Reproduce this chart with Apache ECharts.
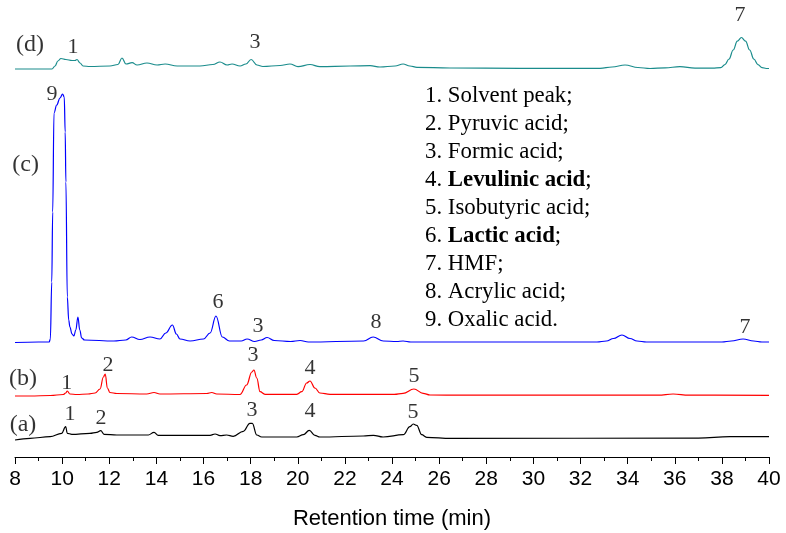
<!DOCTYPE html>
<html>
<head>
<meta charset="utf-8">
<script src="https://cdn.jsdelivr.net/npm/echarts@6/dist/echarts.min.js"></script>
<style>html,body{margin:0;padding:0;background:#fff}#chart{width:786px;height:533px}</style>
</head>
<body>
<div id="chart"></div>
<script>
// [retention time (min), detector signal]
const traceA = [[8.0,-3],[8.64,-1.3],[9.49,0.3],[9.98,3.7],[10.15,10.3],[10.22,3.7],[10.41,2.7],[11.18,3.7],[11.47,4.7],[11.64,6.3],[11.78,2.7],[12.32,2],[13.66,2],[13.9,4.7],[14.08,1.7],[16.28,1.7],[16.49,3],[16.7,1.3],[16.98,2],[17.26,0.7],[17.69,5.7],[17.97,13.7],[18.07,13.7],[18.26,2],[18.47,0],[19.96,0],[20.24,2.3],[20.49,6.7],[20.73,1.7],[20.94,0],[22.78,1],[23.21,1.7],[23.62,0],[24.48,2.3],[24.76,10.3],[24.9,13],[25.05,11.7],[25.26,2.3],[25.47,-0.3],[26.5,-1.3],[37,-1.2],[38.34,0.3],[40,0.3]];
const traceB = [[8.0,0],[8.64,0],[9.5,0.5],[10.05,1.5],[10.15,3],[10.22,5],[10.33,2],[10.62,1.5],[11.1,2],[11.4,3],[11.61,7],[11.75,19],[11.83,22],[11.92,8],[12.03,3.5],[12.32,2.5],[13.59,2],[13.9,3.5],[14.15,2],[16.14,2.5],[16.35,3.5],[16.56,2],[17.55,1.5],[17.83,11],[18.05,24],[18.14,26],[18.26,18],[18.4,4.3],[18.61,1.7],[19.96,1.7],[20.17,4.3],[20.38,13],[20.52,15],[20.73,8],[20.94,3],[21.37,1.7],[24.1,1.7],[24.47,2.7],[24.93,7],[25.32,2.7],[25.61,1],[27,0.8],[35.3,0.8],[35.93,2],[36.6,0.8],[40,0.7]];
const traceC = [[8.0,-0.5],[9.0,0],[9.45,0],[9.5,3],[9.56,60],[9.6,130],[9.655,229],[9.77,237],[9.91,244],[10.02,248],[10.09,245],[10.13,210],[10.16,160],[10.22,45],[10.28,22],[10.33,15],[10.42,8],[10.5,6],[10.58,12],[10.67,25],[10.75,12],[10.83,4],[10.95,2],[12.2,1],[12.7,2],[12.95,5],[13.3,2.5],[13.73,5],[14.15,3],[14.4,9],[14.68,17],[14.85,8],[15.0,3],[15.43,1],[16.0,3],[16.28,9],[16.53,26],[16.8,5],[17.1,1],[17.6,1],[17.85,3],[18.17,0.5],[18.45,2],[18.7,4.5],[19.0,1.5],[19.7,0.5],[20.1,1.5],[20.45,0],[22.8,1],[23.2,5],[23.63,1],[24.2,0.5],[24.47,1],[24.8,0],[32.7,0],[33.1,1],[33.4,3.5],[33.76,7],[34.1,3.5],[34.4,1],[34.8,0],[38.0,0],[38.4,1],[38.9,3],[39.35,1],[39.7,0],[40,0]];
const traceD = [[8.0,0],[9.57,0],[9.7,3],[9.82,8],[9.95,10.5],[10.16,9.5],[10.42,8.5],[10.55,8.5],[10.63,9.5],[10.76,6],[10.89,3],[11.18,2.5],[12.03,3],[12.37,4.5],[12.54,11],[12.71,5],[12.97,6.3],[13.18,4],[13.6,6],[14.03,4],[14.37,5],[14.88,3],[15.85,3],[16.4,4.5],[16.7,7],[17.0,4],[17.21,5],[17.55,3],[17.8,5],[18.02,9.5],[18.27,4],[18.52,2.5],[19.25,3.5],[19.67,5],[20.01,2.3],[20.52,4.5],[20.94,2.3],[22.22,3],[23.07,3.3],[23.49,2],[24.13,3],[24.47,5],[24.76,3],[25.06,1.7],[26.46,1],[29.43,0.7],[32.83,0.7],[33.34,2],[33.89,4],[34.44,1.5],[34.95,0.5],[35.59,1.2],[36.22,2.3],[36.86,0.8],[37.6,0.8],[37.955,1.4],[38.13,4.3],[38.305,10],[38.48,19],[38.655,27.8],[38.83,31.5],[39.005,27.8],[39.18,19],[39.355,10],[39.53,4.3],[39.705,1.4],[39.88,0.5],[40,0.5]];

const traceNames = ['(a)','(b)','(c)','(d)'];
const traceOffsets = [20, 61, 115, 388];
const traceColors = ['#000000','#ff0000','#0000ff','#1a8c8c'];

// peak labels: [time, level in plot units, text]
const peakLabels = [
  [10.33,43,'1'],[11.65,39,'2'],[18.06,47,'3'],[20.52,46,'4'],[24.89,45,'5'],
  [10.2,74,'1'],[11.95,92,'2'],[18.1,102,'3'],[20.52,89,'4'],[24.93,81,'5'],
  [9.57,363,'9'],[16.62,155,'6'],[18.31,131,'3'],[23.32,135,'8'],[38.98,130,'7'],
  [10.46,410,'1'],[18.19,415,'3'],[38.77,442,'7']
];
const traceLabelPos = [[8.34,32],[8.34,78],[8.45,292],[8.64,412]];

const compounds = [
  ['1.','Solvent peak',';',false],
  ['2.','Pyruvic acid',';',false],
  ['3.','Formic acid',';',false],
  ['4.','Levulinic acid',';',true],
  ['5.','Isobutyric acid',';',false],
  ['6.','Lactic acid',';',true],
  ['7.','HMF',';',false],
  ['8.','Acrylic acid',';',false],
  ['9.','Oxalic acid','.',false]
];

const xMin = 8, xMax = 40, xInterval = 2;

const serif = '"Liberation Serif","Times New Roman",serif';
const sans = '"Liberation Sans",Arial,sans-serif';

const series = [];
[traceA, traceB, traceC, traceD].forEach((tr, i) => {
  series.push({
    type: 'line',
    name: traceNames[i],
    data: tr.map(p => [p[0], p[1] + traceOffsets[i]]),
    showSymbol: false,
    smooth: 0.4,
    smoothMonotone: 'x',
    lineStyle: {color: traceColors[i], width: 1.2},
    silent: true,
    z: 2
  });
});
series.push({
  type: 'scatter',
  symbolSize: 1,
  itemStyle: {color: 'transparent'},
  data: peakLabels,
  label: {show: true, position: 'inside', formatter: p => p.data[2], color: '#000', fontFamily: serif, fontSize: 22},
  silent: true,
  z: 5
});
series.push({
  type: 'scatter',
  symbolSize: 1,
  itemStyle: {color: 'transparent'},
  data: traceLabelPos.map((p, i) => [p[0], p[1], traceNames[i]]),
  label: {show: true, position: 'inside', formatter: p => p.data[2], color: '#000', fontFamily: serif, fontSize: 24},
  silent: true,
  z: 5
});

const richText = compounds.map(c => c[3] ? `{n|${c[0]} }{b|${c[1]}}{n|${c[2]}}` : `{n|${c[0]} ${c[1]}${c[2]}}`).join('\n');

const chart = echarts.init(document.getElementById('chart'), null, {renderer: 'canvas'});
chart.setOption({
  animation: false,
  backgroundColor: '#fff',
  grid: {left: 15, right: 17, top: 0, bottom: 76, containLabel: false, outerBoundsMode: 'none'},
  xAxis: {
    type: 'value', min: xMin, max: xMax, interval: xInterval,
    axisLine: {show: true, onZero: false, lineStyle: {color: '#000', width: 1}},
    axisTick: {show: true, length: 7, lineStyle: {color: '#000'}},
    minorTick: {show: true, splitNumber: 2, length: 4, lineStyle: {color: '#000'}},
    splitLine: {show: false},
    axisLabel: {color: '#000', fontFamily: sans, fontSize: 21, margin: 12},
    name: 'Retention time (min)', nameLocation: 'middle', nameGap: 51,
    nameTextStyle: {color: '#000', fontFamily: sans, fontSize: 22}
  },
  yAxis: {type: 'value', min: 0, max: 457, show: false},
  series: series,
  graphic: [{
    type: 'text', left: 425, top: 84, scaleX: 0.95, silent: true,
    style: {
      text: richText,
      rich: {
        n: {fontFamily: serif, fontSize: 24, lineHeight: 28, fill: '#000'},
        b: {fontFamily: serif, fontSize: 24, lineHeight: 28, fontWeight: 'bold', fill: '#000'}
      }
    }
  }]
});
</script>
</body>
</html>
